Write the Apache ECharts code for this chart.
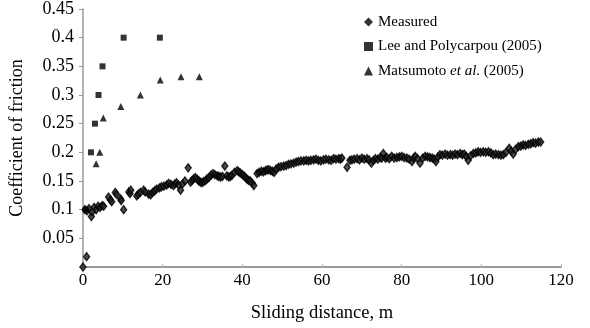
<!DOCTYPE html>
<html>
<head>
<meta charset="utf-8">
<script src="https://cdn.jsdelivr.net/npm/echarts@6/dist/echarts.min.js"></script>
<style>
  html, body { margin: 0; padding: 0; background: #fff; }
  #chart { width: 590px; height: 328px; }
</style>
</head>
<body>
<div id="chart"></div>
<script>
// measured friction coefficient vs sliding distance (m)
const measuredX = [0, 0.9, 0.5, 1.0, 1.5, 2.1, 2.3, 2.8, 3.3, 3.8, 4.3, 4.8, 5.2,
  6.4, 6.9, 7.2, 8.1, 8.4, 9.4, 9.6, 10.2, 11.5, 11.8, 12.0,
  13.5, 13.9, 14.4, 15.2, 15.6, 16.5, 17.0, 17.5, 18.0, 18.5, 19.2, 19.7, 20.3, 21.0, 21.5, 22.1, 22.7, 23.1, 23.5,
  24.0, 24.5, 25.0, 25.6, 26.4, 27.0, 27.4, 27.8, 28.2, 28.7, 29.1, 29.5, 29.9, 30.3, 30.8, 31.2, 31.6, 32.1, 32.6, 33.1, 33.7, 34.1, 34.5, 35.0,
  35.6, 36.1, 36.6, 37.0, 37.4, 38.0, 38.7, 39.1, 39.5, 40.0, 40.4, 40.8, 41.2, 41.6, 42.0, 42.5, 42.9,
  43.7, 44.2, 44.8, 45.3, 45.8, 46.2, 46.6, 47.1, 47.6, 48.0, 48.5, 49.1, 49.7, 50.4, 51.0, 51.6, 52.2, 52.9, 53.5, 54.1, 54.7,
  55.4, 56.0, 56.6, 57.2, 57.9, 58.5, 59.1, 59.7, 60.4, 61.0, 61.7, 62.3, 62.9, 63.5, 64.2, 64.6, 65.0, 66.3,
  67.0, 67.5, 68.1, 68.8, 69.4, 70.0, 70.6, 71.3, 71.8, 72.4, 72.9, 73.4, 74.0, 74.6, 75.0, 75.4, 75.9, 76.3, 76.9, 77.5,
  78.1, 78.8, 79.4, 80.0, 80.6, 81.3, 81.9, 82.6, 83.0, 83.4, 84.0, 84.6, 85.3, 85.9, 86.5, 87.1, 87.7, 88.2, 88.6,
  89.1, 89.6, 90.2, 90.9, 91.5, 92.2, 92.8, 93.4, 94.0, 94.7, 95.2, 95.7, 96.2, 96.7, 97.3, 98.0, 98.6, 99.2, 99.8,
  100.5, 101.1, 101.8, 102.4, 103.0, 103.6, 104.3, 104.9, 105.5, 106.2, 107.0, 107.5, 108.0, 108.6, 109.3, 109.9,
  110.5, 111.1, 111.8, 112.4, 113.0, 113.6, 114.3, 114.9];
const measuredY = [0.000, 0.018, 0.100, 0.098, 0.102, 0.088, 0.096, 0.104, 0.100, 0.106, 0.104, 0.107, 0.106,
  0.122, 0.117, 0.114, 0.130, 0.127, 0.119, 0.116, 0.100, 0.131, 0.128, 0.134,
  0.124, 0.127, 0.130, 0.134, 0.131, 0.127, 0.126, 0.130, 0.133, 0.136, 0.138, 0.140, 0.141, 0.143, 0.146, 0.144, 0.142, 0.145, 0.147,
  0.143, 0.134, 0.145, 0.150, 0.173, 0.148, 0.151, 0.154, 0.156, 0.153, 0.150, 0.148, 0.147, 0.149, 0.151, 0.154, 0.156, 0.160, 0.163, 0.161, 0.159, 0.158, 0.157, 0.158,
  0.176, 0.159, 0.157, 0.158, 0.160, 0.165, 0.168, 0.166, 0.164, 0.161, 0.159, 0.156, 0.153, 0.151, 0.150, 0.146, 0.142,
  0.163, 0.165, 0.167, 0.166, 0.168, 0.169, 0.170, 0.168, 0.167, 0.165, 0.171, 0.174, 0.175, 0.176, 0.177, 0.179, 0.180, 0.181, 0.183, 0.184, 0.185,
  0.185, 0.186, 0.185, 0.186, 0.187, 0.188, 0.186, 0.185, 0.187, 0.188, 0.187, 0.186, 0.189, 0.188, 0.189, 0.188, 0.190, 0.174,
  0.186, 0.187, 0.188, 0.189, 0.187, 0.190, 0.188, 0.189, 0.187, 0.181, 0.186, 0.189, 0.188, 0.191, 0.190, 0.198, 0.190, 0.191, 0.189, 0.193,
  0.190, 0.191, 0.192, 0.193, 0.191, 0.190, 0.188, 0.184, 0.190, 0.193, 0.189, 0.181, 0.190, 0.193, 0.192, 0.191, 0.190, 0.188, 0.184,
  0.192, 0.196, 0.195, 0.197, 0.195, 0.196, 0.195, 0.197, 0.196, 0.198, 0.196, 0.197, 0.193, 0.186, 0.194, 0.198, 0.199, 0.201, 0.200,
  0.201, 0.200, 0.201, 0.199, 0.196, 0.197, 0.196, 0.195, 0.196, 0.200, 0.207, 0.202, 0.197, 0.205, 0.210, 0.211,
  0.213, 0.212, 0.214, 0.215, 0.217, 0.216, 0.218, 0.218];

// Lee and Polycarpou (2005)
const leeX = [0.7, 2.0, 3.0, 3.9, 4.9, 10.2, 19.3];
const leeY = [0.10, 0.20, 0.25, 0.30, 0.35, 0.40, 0.40];

// Matsumoto et al. (2005)
const matsX = [3.3, 4.2, 5.1, 9.5, 14.4, 19.4, 24.6, 29.2];
const matsY = [0.18, 0.20, 0.26, 0.28, 0.30, 0.326, 0.332, 0.332];

const xTicks = { min: 0, max: 120, interval: 20 };
const yTicks = { min: 0, max: 0.45, interval: 0.05 };

const zip = (xs, ys) => xs.map((x, i) => [x, ys[i]]);
const FONT = '"Liberation Serif", "DejaVu Serif", serif';

const chart = echarts.init(document.getElementById('chart'));
chart.setOption({
  animation: false,
  textStyle: { fontFamily: FONT, color: '#000' },
  grid: { left: 82, right: 29, top: 7, bottom: 56 },
  legend: {
    orient: 'vertical',
    left: 359,
    top: 8,
    itemWidth: 9,
    itemHeight: 9,
    itemGap: 6.5,
    textStyle: {
      fontFamily: FONT, fontSize: 15, color: '#000', lineHeight: 18,
      rich: {
        n: { fontFamily: FONT, fontSize: 15, color: '#000' },
        i: { fontFamily: FONT, fontSize: 15, color: '#000', fontStyle: 'italic' }
      }
    },
    formatter: function (name) {
      if (name === 'Matsumoto et al. (2005)') {
        return '{n|Matsumoto }{i|et al}{n|. (2005)}';
      }
      return '{n|' + name + '}';
    },
    data: [
      { name: 'Measured', icon: 'diamond', itemStyle: { color: '#000', borderWidth: 0 } },
      { name: 'Lee and Polycarpou (2005)', icon: 'rect' },
      { name: 'Matsumoto et al. (2005)', icon: 'triangle' }
    ]
  },
  xAxis: {
    type: 'value',
    min: xTicks.min,
    max: xTicks.max,
    interval: xTicks.interval,
    name: 'Sliding distance, m',
    nameLocation: 'middle',
    nameGap: 37,
    nameTextStyle: { fontFamily: FONT, fontSize: 18.5, color: '#000' },
    axisLine: { show: true, onZero: false, lineStyle: { color: '#999', width: 2 } },
    axisTick: { show: true, inside: true, length: 3, lineStyle: { color: '#bbb' } },
    axisLabel: { fontFamily: FONT, fontSize: 17, color: '#000', margin: 5 },
    splitLine: { show: false }
  },
  yAxis: {
    type: 'value',
    min: yTicks.min,
    max: yTicks.max,
    interval: yTicks.interval,
    name: 'Coefficient of friction',
    nameLocation: 'middle',
    nameGap: 57,
    nameTextStyle: { fontFamily: FONT, fontSize: 18, color: '#000' },
    axisLine: { show: true, onZero: false, lineStyle: { color: '#999', width: 1.5 } },
    axisTick: { show: true, length: 4, lineStyle: { color: '#999' } },
    axisLabel: {
      fontFamily: FONT, fontSize: 18, color: '#000', margin: 9,
      formatter: function (v) { return v === 0 ? '' : String(+v.toFixed(2)); }
    },
    splitLine: { show: false }
  },
  series: [
    {
      name: 'Measured',
      type: 'scatter',
      symbol: 'diamond',
      symbolSize: [6, 8],
      itemStyle: { color: '#222', borderColor: '#000', borderWidth: 1.4 },
      data: zip(measuredX, measuredY),
      z: 2
    },
    {
      name: 'Lee and Polycarpou (2005)',
      type: 'scatter',
      symbol: 'rect',
      symbolSize: 6,
      itemStyle: { color: '#000' },
      data: zip(leeX, leeY),
      z: 3
    },
    {
      name: 'Matsumoto et al. (2005)',
      type: 'scatter',
      symbol: 'triangle',
      symbolSize: 7,
      itemStyle: { color: '#000' },
      data: zip(matsX, matsY),
      z: 3
    }
  ]
});
</script>
</body>
</html>
